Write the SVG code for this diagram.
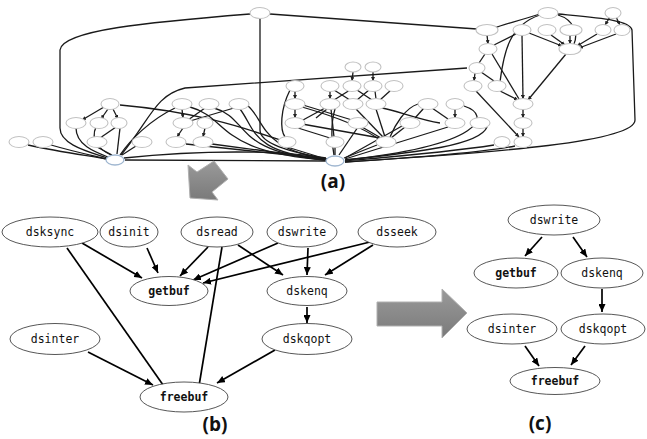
<svg xmlns="http://www.w3.org/2000/svg" width="647" height="439" viewBox="0 0 647 439">
<defs>
<marker id="ah" markerWidth="8" markerHeight="7" refX="8" refY="3.5" orient="auto" markerUnits="userSpaceOnUse"><path d="M0,0 L8,3.5 L0,7 z" fill="#000"/></marker>
<marker id="sa" markerWidth="4" markerHeight="4" refX="4" refY="2" orient="auto" markerUnits="userSpaceOnUse"><path d="M0,0 L4,2 L0,4 z" fill="#222"/></marker>
<linearGradient id="g" x1="0" y1="0" x2="0" y2="1"><stop offset="0" stop-color="#9a9a9a"/><stop offset="1" stop-color="#7a7a7a"/></linearGradient>
<style>
.n{fill:#fff;stroke:#c2c2c2;stroke-width:1.1}
.h{fill:#fff;stroke:#9fb6d0;stroke-width:1.3}
.ae path{fill:none;stroke:#1a1a1a;stroke-width:1.3}
.ae .s{marker-end:url(#sa)}
.be line{stroke:#000;stroke-width:1.7;marker-end:url(#ah)}
.bn ellipse{fill:#fff;stroke:#444;stroke-width:0.9}
.bn text{font-family:"DejaVu Sans Mono","Liberation Mono",monospace;font-size:11.5px;text-anchor:middle;fill:#111}
.bn text.b{font-weight:bold}
.lbl{font-family:"Open Sans","Liberation Sans",sans-serif;font-weight:bold;font-size:19px;text-anchor:middle;fill:#111}
.bigarrow{fill:url(#g);stroke:#b0b0b0;stroke-width:1}
</style>
</defs>

<!-- (a) connectors -->
<g id="a-edges" class="ae">
<path d="M250,14 C150,22 62,30 60,50 L60,128 C60,145 90,152 107,158"/>
<path d="M260,19 L260,130 C260,146 300,153 326,159"/>
<path d="M270,14 L477,29"/>
<path d="M121,155 C150,120 155,95 185,88 L467,68"/>
<path d="M120,105 C200,112 250,130 280,140"/>
<path class="s" d="M104,107 L82,120"/>
<path class="s" d="M108,109 L101,119"/>
<path class="s" d="M113,109 L118,119"/>
<path d="M76,128 C76,145 95,152 108,157"/>
<path d="M96,127 C90,140 100,150 111,155"/>
<path d="M116,127 L100,138"/>
<path d="M120,128 L117,154"/>
<path d="M97,147 L112,155"/>
<path d="M28,145 C60,152 90,156 106,159"/>
<path d="M51,145 C75,152 95,156 107,159"/>
<path d="M136,146 L122,155"/>
<path d="M175,108 C150,120 130,140 120,155"/>
<path d="M125,160 L326,161"/>
<path d="M124,158 C200,150 280,150 326,158"/>
<path d="M186,144 L326,159"/>
<path d="M212,144 L326,159"/>
<path class="s" d="M182,109 L183,118"/>
<path class="s" d="M183,128 L177,137"/>
<path class="s" d="M205,128 L203,137"/>
<path d="M205,108 L188,120"/>
<path d="M234,108 L190,121"/>
<path d="M190,107 C230,118 215,152 326,160"/>
<path d="M214,108 C250,118 232,152 326,160"/>
<path d="M240,109 C256,130 250,152 327,160"/>
<path d="M248,106 C265,120 260,150 328,159"/>
<path d="M290,90 C280,110 280,130 285,137"/>
<path class="s" d="M295,91 L295,99"/>
<path class="s" d="M295,109 L295,118"/>
<path d="M287,147 L326,159"/>
<path d="M298,128 L330,138"/>
<path d="M303,105 L352,120"/>
<path d="M303,120 L325,108"/>
<path d="M302,107 C330,115 360,125 380,140"/>
<path d="M302,124 L380,138"/>
<path class="s" d="M353,72 L352,81"/>
<path class="s" d="M373,72 L373,81"/>
<path class="s" d="M330,91 L330,99"/>
<path d="M350,90 L334,100"/>
<path d="M334,90 L350,100"/>
<path d="M357,90 L372,100"/>
<path d="M369,90 L357,100"/>
<path d="M375,91 L376,99"/>
<path d="M391,90 L380,100"/>
<path d="M331,109 L334,137"/>
<path d="M327,109 L316,118"/>
<path d="M356,109 L383,137"/>
<path d="M376,109 L385,137"/>
<path d="M382,108 C395,110 420,120 440,123"/>
<path d="M362,127 L381,138"/>
<path d="M405,127 L391,138"/>
<path d="M424,108 L415,118"/>
<path d="M432,108 L448,119"/>
<path class="s" d="M455,109 L455,118"/>
<path d="M418,104 C405,108 395,125 390,137"/>
<path d="M335,147 L335,155"/>
<path d="M377,145 L344,158"/>
<path d="M464,106 C492,115 485,145 345,160"/>
<path d="M487,127 C480,145 420,152 345,160"/>
<path d="M448,127 L345,159"/>
<path d="M402,126 L345,158"/>
<path d="M358,127 L339,155"/>
<path d="M335,109 C330,125 332,145 334,155"/>
<path d="M494,145 C450,152 390,157 345,161"/>
<path d="M515,146 C480,153 410,158 345,162"/>
<path d="M558,14 C600,18 630,20 632,30 L635,120 C635,142 500,152 345,162"/>
<path class="s" d="M487,35 L488,44"/>
<path d="M485,54 L479,63"/>
<path d="M492,54 L519,99"/>
<path class="s" d="M475,73 L474,81"/>
<path d="M481,72 L494,81"/>
<path class="s" d="M500,91 L518,100"/>
<path class="s" d="M522,35 L523,99"/>
<path d="M516,34 L494,45"/>
<path class="s" d="M566,54 L528,100"/>
<path d="M540,14 C515,22 500,25 495,28"/>
<path d="M540,15 C510,25 504,50 500,82"/>
<path d="M558,15 C575,20 578,35 574,44"/>
<path class="s" d="M610,17 L605,25"/>
<path class="s" d="M616,17 L620,25"/>
<path class="s" d="M551,35 L565,45"/>
<path class="s" d="M570,36 L570,44"/>
<path class="s" d="M597,34 L577,46"/>
<path class="s" d="M616,34 L579,48"/>
<path class="s" d="M529,33 L562,46"/>
<path class="s" d="M476,91 L519,137"/>
<path class="s" d="M523,109 L523,118"/>
<path class="s" d="M523,128 L523,137"/>
</g>

<!-- (a) nodes -->
<g id="a-nodes">
<ellipse class="n" cx="260" cy="13" rx="10" ry="5.5"/>
<ellipse class="n" cx="548" cy="13" rx="10" ry="5.5"/>
<ellipse class="n" cx="613" cy="13" rx="8" ry="5.5"/>
<ellipse class="n" cx="487" cy="30" rx="11" ry="5.5"/>
<ellipse class="n" cx="522" cy="30" rx="9" ry="5.5"/>
<ellipse class="n" cx="547" cy="30" rx="9" ry="5.5"/>
<ellipse class="n" cx="571" cy="30" rx="11" ry="5.5"/>
<ellipse class="n" cx="603" cy="30" rx="8" ry="5.5"/>
<ellipse class="n" cx="622" cy="30" rx="8" ry="5.5"/>
<ellipse class="n" cx="488" cy="49" rx="9" ry="5.5"/>
<ellipse class="n" cx="570" cy="49" rx="11" ry="5.5"/>
<ellipse class="n" cx="353" cy="67" rx="8" ry="5"/>
<ellipse class="n" cx="373" cy="67" rx="8" ry="5"/>
<ellipse class="n" cx="477" cy="68" rx="8" ry="5.5"/>
<ellipse class="n" cx="295" cy="86" rx="9" ry="5.5"/>
<ellipse class="n" cx="330" cy="86" rx="9" ry="5.5"/>
<ellipse class="n" cx="352" cy="86" rx="9" ry="5.5"/>
<ellipse class="n" cx="373" cy="86" rx="9" ry="5.5"/>
<ellipse class="n" cx="394" cy="86" rx="9" ry="5.5"/>
<ellipse class="n" cx="473" cy="86" rx="9" ry="5.5"/>
<ellipse class="n" cx="497" cy="86" rx="9" ry="5.5"/>
<ellipse class="n" cx="110" cy="104" rx="9" ry="5.5"/>
<ellipse class="n" cx="182" cy="104" rx="10" ry="5.5"/>
<ellipse class="n" cx="209" cy="104" rx="10" ry="5.5"/>
<ellipse class="n" cx="239" cy="104" rx="10" ry="5.5"/>
<ellipse class="n" cx="295" cy="104" rx="10" ry="5.5"/>
<ellipse class="n" cx="330" cy="104" rx="10" ry="5.5"/>
<ellipse class="n" cx="353" cy="104" rx="10" ry="5.5"/>
<ellipse class="n" cx="376" cy="104" rx="10" ry="5.5"/>
<ellipse class="n" cx="428" cy="104" rx="10" ry="5.5"/>
<ellipse class="n" cx="455" cy="104" rx="9" ry="5.5"/>
<ellipse class="n" cx="523" cy="104" rx="10" ry="5.5"/>
<ellipse class="n" cx="76" cy="123" rx="10" ry="5.5"/>
<ellipse class="n" cx="99" cy="123" rx="9" ry="5.5"/>
<ellipse class="n" cx="119" cy="123" rx="8" ry="5.5"/>
<ellipse class="n" cx="183" cy="123" rx="10" ry="5.5"/>
<ellipse class="n" cx="205" cy="123" rx="8" ry="5.5"/>
<ellipse class="n" cx="295" cy="123" rx="10" ry="5.5"/>
<ellipse class="n" cx="358" cy="123" rx="10" ry="5.5"/>
<ellipse class="n" cx="410" cy="123" rx="10" ry="5.5"/>
<ellipse class="n" cx="455" cy="123" rx="10" ry="5.5"/>
<ellipse class="n" cx="480" cy="123" rx="10" ry="5.5"/>
<ellipse class="n" cx="523" cy="123" rx="9" ry="5.5"/>
<ellipse class="n" cx="19" cy="142" rx="10" ry="5.5"/>
<ellipse class="n" cx="43" cy="142" rx="10" ry="5.5"/>
<ellipse class="n" cx="97" cy="142" rx="10" ry="5.5"/>
<ellipse class="n" cx="142" cy="142" rx="10" ry="5.5"/>
<ellipse class="n" cx="176" cy="142" rx="10" ry="5.5"/>
<ellipse class="n" cx="203" cy="142" rx="10" ry="5.5"/>
<ellipse class="n" cx="287" cy="142" rx="9" ry="5.5"/>
<ellipse class="n" cx="335" cy="142" rx="9" ry="5.5"/>
<ellipse class="n" cx="386" cy="142" rx="10" ry="5.5"/>
<ellipse class="n" cx="502" cy="142" rx="8" ry="5.5"/>
<ellipse class="n" cx="523" cy="142" rx="9" ry="5.5"/>
<ellipse class="h" cx="115" cy="160" rx="9" ry="5"/>
<ellipse class="h" cx="335" cy="161" rx="9" ry="5"/>
</g>

<text class="lbl" x="333" y="188">(a)</text>

<!-- big arrows -->
<polygon class="bigarrow" points="188,165 197,172 214,161 228,179 212,192 218,200 190,198"/>
<polygon class="bigarrow" points="377,302 442,302 442,289 467,313 442,338 442,326 377,326"/>

<!-- (b) connectors -->
<g id="b-edges" class="be">
<line x1="82" y1="243" x2="142" y2="278"/>
<line x1="67" y1="248" x2="168" y2="392"/>
<line x1="147" y1="248" x2="158" y2="273"/>
<line x1="208" y1="247" x2="180" y2="276"/>
<line x1="238" y1="245" x2="283" y2="275"/>
<line x1="222" y1="247" x2="198" y2="392"/>
<line x1="278" y1="243" x2="193" y2="280"/>
<line x1="308" y1="248" x2="307" y2="275"/>
<line x1="370" y1="242" x2="203" y2="283"/>
<line x1="373" y1="245" x2="325" y2="275"/>
<line x1="307" y1="307" x2="307" y2="323"/>
<line x1="275" y1="350" x2="217" y2="383"/>
<line x1="88" y1="352" x2="153" y2="385"/>
</g>

<!-- (b) nodes -->
<g id="b-dsksync" class="bn"><ellipse cx="50" cy="232" rx="48" ry="15"/><text x="50" y="236">dsksync</text></g>
<g id="b-dsinit" class="bn"><ellipse cx="129" cy="232" rx="29" ry="15"/><text x="129" y="236">dsinit</text></g>
<g id="b-dsread" class="bn"><ellipse cx="217" cy="232" rx="36" ry="15"/><text x="217" y="236">dsread</text></g>
<g id="b-dswrite" class="bn"><ellipse cx="302" cy="232" rx="35" ry="15"/><text x="302" y="236">dswrite</text></g>
<g id="b-dsseek" class="bn"><ellipse cx="397" cy="232" rx="39" ry="15"/><text x="397" y="236">dsseek</text></g>
<g id="b-getbuf" class="bn"><ellipse cx="169" cy="291" rx="39" ry="14.5"/><text class="b" x="169" y="295">getbuf</text></g>
<g id="b-dskenq" class="bn"><ellipse cx="307" cy="291" rx="40" ry="14.5"/><text x="307" y="295">dskenq</text></g>
<g id="b-dsinter" class="bn"><ellipse cx="55" cy="339" rx="45" ry="15.5"/><text x="55" y="343">dsinter</text></g>
<g id="b-dskqopt" class="bn"><ellipse cx="307" cy="339" rx="45" ry="15.5"/><text x="307" y="343">dskqopt</text></g>
<g id="b-freebuf" class="bn"><ellipse cx="184" cy="397" rx="44" ry="15"/><text class="b" x="184" y="401">freebuf</text></g>

<text class="lbl" x="215" y="431">(b)</text>

<!-- (c) connectors -->
<g id="c-edges" class="be">
<line x1="542" y1="237" x2="525" y2="256"/>
<line x1="573" y1="237" x2="587" y2="257"/>
<line x1="602" y1="289" x2="602" y2="312"/>
<line x1="525" y1="346" x2="539" y2="366"/>
<line x1="585" y1="346" x2="571" y2="365"/>
</g>

<!-- (c) nodes -->
<g id="c-dswrite" class="bn"><ellipse cx="554" cy="220" rx="46" ry="15"/><text x="554" y="224">dswrite</text></g>
<g id="c-getbuf" class="bn"><ellipse cx="516" cy="273" rx="42" ry="15"/><text class="b" x="516" y="277">getbuf</text></g>
<g id="c-dskenq" class="bn"><ellipse cx="602" cy="273" rx="41" ry="15"/><text x="602" y="277">dskenq</text></g>
<g id="c-dsinter" class="bn"><ellipse cx="512" cy="329" rx="45" ry="15"/><text x="512" y="333">dsinter</text></g>
<g id="c-dskqopt" class="bn"><ellipse cx="603" cy="329" rx="42" ry="15"/><text x="603" y="333">dskqopt</text></g>
<g id="c-freebuf" class="bn"><ellipse cx="555" cy="381" rx="45" ry="13.5"/><text class="b" x="555" y="385">freebuf</text></g>

<text class="lbl" x="540" y="430">(c)</text>
</svg>
